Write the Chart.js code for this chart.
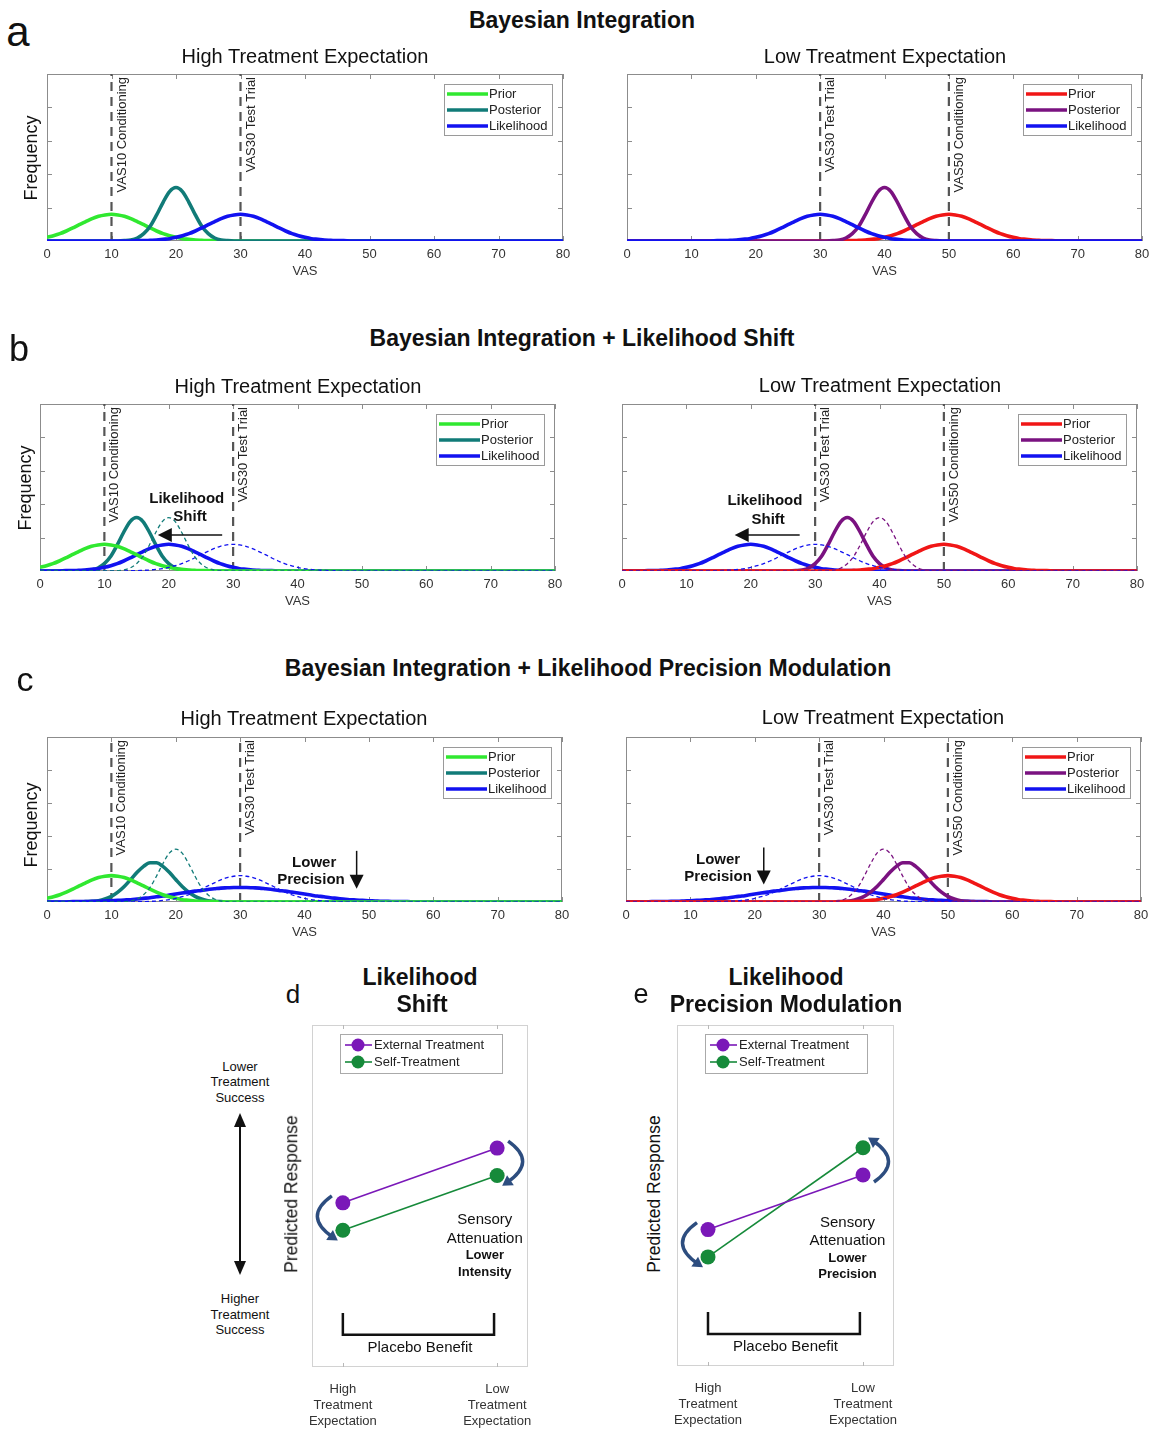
<!DOCTYPE html>
<html lang="en">
  <head>
    <meta charset="UTF-8" />
    <title>Bayesian Integration</title>
    <script src="https://cdn.jsdelivr.net/npm/chart.js@4.4.1/dist/chart.umd.min.js"></script>
    <style>
      body {
        margin: 0;
        background: #fff;
        font-family: "Liberation Sans", Arial, sans-serif;
      }
      #figure {
        position: relative;
        width: 1152px;
        height: 1430px;
        overflow: hidden;
      }
      #figure canvas {
        position: absolute;
      }
      .t {
        position: absolute;
        line-height: 1;
        white-space: nowrap;
        color: #111;
        transform: translate(-50%, -50%);
        z-index: 2;
      }
      .rot {
        transform: translate(-50%, -50%) rotate(-90deg);
      }
      .b {
        font-weight: bold;
      }
    </style>
  </head>
  <body>
    <div id="figure">
      <!-- panel a -->
      <div class="t" style="left: 18px; top: 32px; font-size: 42px">a</div>
      <div class="t b" style="left: 582px; top: 20px; font-size: 23px">Bayesian Integration</div>
      <div class="t" style="left: 305px; top: 56px; font-size: 20px">High Treatment Expectation</div>
      <div class="t" style="left: 885px; top: 56px; font-size: 20px">Low Treatment Expectation</div>
      <div class="t rot" style="left: 31px; top: 158px; font-size: 18px">Frequency</div>
      <canvas id="aHigh"></canvas>
      <canvas id="aLow"></canvas>

      <!-- panel b -->
      <div class="t" style="left: 19px; top: 349px; font-size: 36px">b</div>
      <div class="t b" style="left: 582px; top: 338px; font-size: 23px">Bayesian Integration + Likelihood Shift</div>
      <div class="t" style="left: 298px; top: 386px; font-size: 20px">High Treatment Expectation</div>
      <div class="t" style="left: 880px; top: 385px; font-size: 20px">Low Treatment Expectation</div>
      <div class="t rot" style="left: 25px; top: 488px; font-size: 18px">Frequency</div>
      <canvas id="bHigh"></canvas>
      <canvas id="bLow"></canvas>

      <!-- panel c -->
      <div class="t" style="left: 25px; top: 679px; font-size: 34px">c</div>
      <div class="t b" style="left: 588px; top: 668px; font-size: 23px">Bayesian Integration + Likelihood Precision Modulation</div>
      <div class="t" style="left: 304px; top: 718px; font-size: 20px">High Treatment Expectation</div>
      <div class="t" style="left: 883px; top: 717px; font-size: 20px">Low Treatment Expectation</div>
      <div class="t rot" style="left: 31px; top: 825px; font-size: 18px">Frequency</div>
      <canvas id="cHigh"></canvas>
      <canvas id="cLow"></canvas>

      <!-- panels d and e -->
      <div class="t" style="left: 293px; top: 994px; font-size: 26px">d</div>
      <div class="t b" style="left: 420px; top: 977px; font-size: 23px">Likelihood</div>
      <div class="t b" style="left: 422px; top: 1004px; font-size: 23px">Shift</div>
      <div class="t" style="left: 641px; top: 994px; font-size: 27px">e</div>
      <div class="t b" style="left: 786px; top: 977px; font-size: 23px">Likelihood</div>
      <div class="t b" style="left: 786px; top: 1004px; font-size: 23px">Precision Modulation</div>
      <div class="t rot" style="left: 292px; top: 1194px; font-size: 17.5px">Predicted Response</div>
      <div class="t rot" style="left: 655px; top: 1194px; font-size: 17.5px">Predicted Response</div>

      <div class="t" style="left: 240px; top: 1066px; font-size: 13px">Lower</div>
      <div class="t" style="left: 240px; top: 1081px; font-size: 13px">Treatment</div>
      <div class="t" style="left: 240px; top: 1097px; font-size: 13px">Success</div>
      <svg style="position: absolute; left: 228px; top: 1110px" width="24" height="168">
        <line x1="12" y1="14" x2="12" y2="154" stroke="#111" stroke-width="2" />
        <polygon points="12,3 6,17 18,17" fill="#111" />
        <polygon points="12,165 6,151 18,151" fill="#111" />
      </svg>
      <div class="t" style="left: 240px; top: 1298px; font-size: 13px">Higher</div>
      <div class="t" style="left: 240px; top: 1314px; font-size: 13px">Treatment</div>
      <div class="t" style="left: 240px; top: 1329px; font-size: 13px">Success</div>

      <canvas id="dShift"></canvas>
      <canvas id="ePrecision"></canvas>
    </div>

    <script>
      // VAS grid (0..80, step 1) and axis ticks
      const vas = Array.from({ length: 81 }, (_, i) => i);
      const vasTicks = [0, 10, 20, 30, 40, 50, 60, 70, 80];
      const freqTicks = [0.1, 0.2, 0.3, 0.4];

      // prior, conditioned at VAS10
      const priorHigh = [
        0.011, 0.016, 0.022, 0.03, 0.039, 0.049, 0.058, 0.067, 0.074, 0.078,
        0.08, 0.078, 0.074, 0.067, 0.058, 0.049, 0.039, 0.03, 0.022, 0.016,
        0.011, 0.007, 0.005, 0.003, 0.002, 0.001, 0.001, 0, 0, 0,
        0, 0, 0, 0, 0, 0, 0, 0, 0, 0,
        0, 0, 0, 0, 0, 0, 0, 0, 0, 0,
        0, 0, 0, 0, 0, 0, 0, 0, 0, 0,
        0, 0, 0, 0, 0, 0, 0, 0, 0, 0,
        0, 0, 0, 0, 0, 0, 0, 0, 0, 0,
        0,
      ];
      // prior, conditioned at VAS50
      const priorLow = [
        0, 0, 0, 0, 0, 0, 0, 0, 0, 0,
        0, 0, 0, 0, 0, 0, 0, 0, 0, 0,
        0, 0, 0, 0, 0, 0, 0, 0, 0, 0,
        0, 0, 0, 0, 0.001, 0.001, 0.002, 0.003, 0.005, 0.007,
        0.011, 0.016, 0.022, 0.03, 0.039, 0.049, 0.058, 0.067, 0.074, 0.078,
        0.08, 0.078, 0.074, 0.067, 0.058, 0.049, 0.039, 0.03, 0.022, 0.016,
        0.011, 0.007, 0.005, 0.003, 0.002, 0.001, 0.001, 0, 0, 0,
        0, 0, 0, 0, 0, 0, 0, 0, 0, 0,
        0,
      ];
      // likelihood of the VAS30 test trial
      const likelihoodTest = [
        0, 0, 0, 0, 0, 0, 0, 0, 0, 0,
        0, 0, 0, 0, 0.001, 0.001, 0.002, 0.003, 0.005, 0.007,
        0.011, 0.016, 0.022, 0.03, 0.039, 0.049, 0.058, 0.067, 0.074, 0.078,
        0.08, 0.078, 0.074, 0.067, 0.058, 0.049, 0.039, 0.03, 0.022, 0.016,
        0.011, 0.007, 0.005, 0.003, 0.002, 0.001, 0.001, 0, 0, 0,
        0, 0, 0, 0, 0, 0, 0, 0, 0, 0,
        0, 0, 0, 0, 0, 0, 0, 0, 0, 0,
        0, 0, 0, 0, 0, 0, 0, 0, 0, 0,
        0,
      ];
      const posteriorHigh = [
        0, 0, 0, 0, 0, 0, 0, 0, 0, 0,
        0, 0, 0.001, 0.003, 0.009, 0.022, 0.044, 0.078, 0.116, 0.148,
        0.16, 0.148, 0.116, 0.078, 0.044, 0.022, 0.009, 0.003, 0.001, 0,
        0, 0, 0, 0, 0, 0, 0, 0, 0, 0,
        0, 0, 0, 0, 0, 0, 0, 0, 0, 0,
        0, 0, 0, 0, 0, 0, 0, 0, 0, 0,
        0, 0, 0, 0, 0, 0, 0, 0, 0, 0,
        0, 0, 0, 0, 0, 0, 0, 0, 0, 0,
        0,
      ];
      const posteriorLow = [
        0, 0, 0, 0, 0, 0, 0, 0, 0, 0,
        0, 0, 0, 0, 0, 0, 0, 0, 0, 0,
        0, 0, 0, 0, 0, 0, 0, 0, 0, 0,
        0, 0, 0.001, 0.003, 0.009, 0.022, 0.044, 0.078, 0.116, 0.148,
        0.16, 0.148, 0.116, 0.078, 0.044, 0.022, 0.009, 0.003, 0.001, 0,
        0, 0, 0, 0, 0, 0, 0, 0, 0, 0,
        0, 0, 0, 0, 0, 0, 0, 0, 0, 0,
        0, 0, 0, 0, 0, 0, 0, 0, 0, 0,
        0,
      ];
      // likelihood shifted towards VAS20
      const likelihoodShift = [
        0, 0, 0, 0, 0.001, 0.001, 0.002, 0.003, 0.005, 0.007,
        0.011, 0.016, 0.022, 0.03, 0.039, 0.049, 0.058, 0.067, 0.074, 0.078,
        0.08, 0.078, 0.074, 0.067, 0.058, 0.049, 0.039, 0.03, 0.022, 0.016,
        0.011, 0.007, 0.005, 0.003, 0.002, 0.001, 0.001, 0, 0, 0,
        0, 0, 0, 0, 0, 0, 0, 0, 0, 0,
        0, 0, 0, 0, 0, 0, 0, 0, 0, 0,
        0, 0, 0, 0, 0, 0, 0, 0, 0, 0,
        0, 0, 0, 0, 0, 0, 0, 0, 0, 0,
        0,
      ];
      const posteriorShiftHigh = [
        0, 0, 0, 0, 0, 0, 0, 0.001, 0.003, 0.009,
        0.022, 0.044, 0.078, 0.116, 0.148, 0.16, 0.148, 0.116, 0.078, 0.044,
        0.022, 0.009, 0.003, 0.001, 0, 0, 0, 0, 0, 0,
        0, 0, 0, 0, 0, 0, 0, 0, 0, 0,
        0, 0, 0, 0, 0, 0, 0, 0, 0, 0,
        0, 0, 0, 0, 0, 0, 0, 0, 0, 0,
        0, 0, 0, 0, 0, 0, 0, 0, 0, 0,
        0, 0, 0, 0, 0, 0, 0, 0, 0, 0,
        0,
      ];
      const posteriorShiftLow = [
        0, 0, 0, 0, 0, 0, 0, 0, 0, 0,
        0, 0, 0, 0, 0, 0, 0, 0, 0, 0,
        0, 0, 0, 0, 0, 0, 0, 0.001, 0.003, 0.009,
        0.022, 0.044, 0.078, 0.116, 0.148, 0.16, 0.148, 0.116, 0.078, 0.044,
        0.022, 0.009, 0.003, 0.001, 0, 0, 0, 0, 0, 0,
        0, 0, 0, 0, 0, 0, 0, 0, 0, 0,
        0, 0, 0, 0, 0, 0, 0, 0, 0, 0,
        0, 0, 0, 0, 0, 0, 0, 0, 0, 0,
        0,
      ];
      // broader likelihood (lower precision)
      const likelihoodBroad = [
        0, 0, 0, 0, 0.001, 0.001, 0.001, 0.002, 0.002, 0.003,
        0.004, 0.005, 0.006, 0.007, 0.009, 0.011, 0.013, 0.016, 0.018, 0.021,
        0.024, 0.027, 0.03, 0.033, 0.035, 0.038, 0.04, 0.042, 0.043, 0.044,
        0.044, 0.044, 0.043, 0.042, 0.04, 0.038, 0.035, 0.033, 0.03, 0.027,
        0.024, 0.021, 0.018, 0.016, 0.013, 0.011, 0.009, 0.007, 0.006, 0.005,
        0.004, 0.003, 0.002, 0.002, 0.001, 0.001, 0.001, 0, 0, 0,
        0, 0, 0, 0, 0, 0, 0, 0, 0, 0,
        0, 0, 0, 0, 0, 0, 0, 0, 0, 0,
        0,
      ];
      const posteriorPrecHigh = [
        0, 0, 0, 0, 0, 0, 0.001, 0.002, 0.004, 0.009,
        0.017, 0.03, 0.047, 0.068, 0.09, 0.108, 0.119, 0.119, 0.108, 0.09,
        0.068, 0.047, 0.03, 0.017, 0.009, 0.004, 0.002, 0.001, 0, 0,
        0, 0, 0, 0, 0, 0, 0, 0, 0, 0,
        0, 0, 0, 0, 0, 0, 0, 0, 0, 0,
        0, 0, 0, 0, 0, 0, 0, 0, 0, 0,
        0, 0, 0, 0, 0, 0, 0, 0, 0, 0,
        0, 0, 0, 0, 0, 0, 0, 0, 0, 0,
        0,
      ];
      const posteriorPrecLow = [
        0, 0, 0, 0, 0, 0, 0, 0, 0, 0,
        0, 0, 0, 0, 0, 0, 0, 0, 0, 0,
        0, 0, 0, 0, 0, 0, 0, 0, 0, 0,
        0, 0, 0, 0.001, 0.002, 0.004, 0.009, 0.017, 0.03, 0.047,
        0.068, 0.09, 0.108, 0.119, 0.119, 0.108, 0.09, 0.068, 0.047, 0.03,
        0.017, 0.009, 0.004, 0.002, 0.001, 0, 0, 0, 0, 0,
        0, 0, 0, 0, 0, 0, 0, 0, 0, 0,
        0, 0, 0, 0, 0, 0, 0, 0, 0, 0,
        0,
      ];

      // predicted response, panels d and e (x: 1 = high, 2 = low expectation)
      const expectation = [1, 2];
      const expectationLabels = [
        ["High", "Treatment", "Expectation"],
        ["Low", "Treatment", "Expectation"],
      ];
      const externalShift = [4.8, 6.4];
      const selfShift = [4.0, 5.6];
      const externalPrecision = [4.0, 5.6];
      const selfPrecision = [3.2, 6.4];

      const FONT = '"Liberation Sans", Arial, sans-serif';
      const C = {
        lime: "#30e830",
        teal: "#117b78",
        blue: "#1212f0",
        red: "#f01616",
        purple: "#7a1280",
        external: "#7a18b8",
        self: "#168a3a",
        swap: "#2d4d7f",
      };
      const legendOrder = ["Prior", "Posterior", "Likelihood"];

      Chart.defaults.font.family = FONT;
      Chart.defaults.color = "#333";

      function place(id, left, top, width, height) {
        const cv = document.getElementById(id);
        cv.width = width;
        cv.height = height;
        cv.style.left = left + "px";
        cv.style.top = top + "px";
        return cv;
      }

      function arrowHead(ctx, tipX, tipY, ang, len, half) {
        ctx.beginPath();
        ctx.moveTo(tipX, tipY);
        ctx.lineTo(tipX - len * Math.cos(ang) + half * Math.sin(ang), tipY - len * Math.sin(ang) - half * Math.cos(ang));
        ctx.lineTo(tipX - len * Math.cos(ang) - half * Math.sin(ang), tipY - len * Math.sin(ang) + half * Math.cos(ang));
        ctx.closePath();
        ctx.fill();
      }

      // one Frequency-vs-VAS panel; area = chart area in page pixels
      function gaussPlot(id, area, panel) {
        const cv = place(id, area.left - 40, area.top - 10, area.right - area.left + 60, area.bottom - area.top + 52);

        const datasets = panel.lines.map((line) => ({
          label: line.label,
          data: line.values.map((y, i) => ({ x: vas[i], y })),
          borderColor: line.color,
          borderWidth: line.dashed ? 1.3 : 3.6,
          borderDash: line.dashed ? [4, 3] : [],
          borderJoinStyle: "round",
          pointRadius: 0,
          cubicInterpolationMode: "monotone",
        }));
        panel.markers.forEach((m) =>
          datasets.push({
            label: m.text,
            data: [
              { x: m.at, y: 0 },
              { x: m.at, y: 0.5 },
            ],
            borderColor: "#555",
            borderWidth: 2.2,
            borderDash: [9, 6],
            pointRadius: 0,
          })
        );

        const frame = {
          id: "frame",
          beforeDatasetsDraw(chart) {
            const { ctx, chartArea: a, scales } = chart;
            ctx.save();
            ctx.strokeStyle = "#8c8c8c";
            ctx.lineWidth = 1;
            ctx.strokeRect(a.left + 0.5, a.top + 0.5, a.width - 1, a.height - 1);
            ctx.beginPath();
            vasTicks.forEach((v) => {
              const px = Math.round(scales.x.getPixelForValue(v)) + 0.5;
              ctx.moveTo(px, a.bottom);
              ctx.lineTo(px, a.bottom - 5);
              ctx.moveTo(px, a.top);
              ctx.lineTo(px, a.top + 5);
            });
            freqTicks.forEach((v) => {
              const py = Math.round(scales.y.getPixelForValue(v)) + 0.5;
              ctx.moveTo(a.left, py);
              ctx.lineTo(a.left + 5, py);
              ctx.moveTo(a.right, py);
              ctx.lineTo(a.right - 5, py);
            });
            ctx.stroke();
            ctx.restore();
          },
          afterDatasetsDraw(chart) {
            const { ctx, chartArea: a, scales } = chart;
            const { x, y } = scales;
            ctx.save();

            // condition / test-trial labels beside the dashed lines
            ctx.fillStyle = "#222";
            ctx.font = "13px " + FONT;
            ctx.textAlign = "right";
            ctx.textBaseline = "top";
            panel.markers.forEach((m) => {
              ctx.save();
              ctx.translate(x.getPixelForValue(m.at) + 4, a.top + 3);
              ctx.rotate(-Math.PI / 2);
              ctx.fillText(m.text, 0, 0);
              ctx.restore();
            });

            // legend box
            const bx = a.right - 119,
              by = a.top + 10;
            ctx.fillStyle = "#fff";
            ctx.fillRect(bx, by, 108, 51);
            ctx.strokeStyle = "#9a9a9a";
            ctx.lineWidth = 1;
            ctx.strokeRect(bx + 0.5, by + 0.5, 108, 51);
            ctx.font = "13px " + FONT;
            ctx.textAlign = "left";
            ctx.textBaseline = "middle";
            legendOrder.forEach((name, i) => {
              const line = panel.lines.find((l) => l.label === name && !l.dashed);
              const ly = by + 10 + i * 16;
              ctx.strokeStyle = line.color;
              ctx.lineWidth = 3.6;
              ctx.beginPath();
              ctx.moveTo(bx + 3, ly);
              ctx.lineTo(bx + 44, ly);
              ctx.stroke();
              ctx.fillStyle = "#222";
              ctx.fillText(name, bx + 45, ly + 0.5);
            });

            // annotations
            ctx.fillStyle = "#111";
            ctx.strokeStyle = "#111";
            ctx.font = "bold 15px " + FONT;
            ctx.textAlign = "center";
            (panel.notes || []).forEach((n) => {
              ctx.fillText(n.text, x.getPixelForValue(n.x), y.getPixelForValue(n.y));
            });
            (panel.arrows || []).forEach((ar) => {
              const x1 = x.getPixelForValue(ar.from[0]),
                y1 = y.getPixelForValue(ar.from[1]);
              const x2 = x.getPixelForValue(ar.to[0]),
                y2 = y.getPixelForValue(ar.to[1]);
              const ang = Math.atan2(y2 - y1, x2 - x1);
              ctx.lineWidth = 1.5;
              ctx.beginPath();
              ctx.moveTo(x1, y1);
              ctx.lineTo(x2 - 12 * Math.cos(ang), y2 - 12 * Math.sin(ang));
              ctx.stroke();
              arrowHead(ctx, x2, y2, ang, 14, 7);
            });
            ctx.restore();
          },
        };

        new Chart(cv, {
          type: "line",
          data: { datasets },
          options: {
            responsive: false,
            animation: false,
            layout: { padding: { left: 40, top: 10, right: 20, bottom: 0 } },
            plugins: { legend: { display: false }, tooltip: { enabled: false } },
            scales: {
              x: {
                type: "linear",
                min: 0,
                max: 80,
                grid: { display: false, drawTicks: false },
                border: { display: false },
                afterBuildTicks: (s) => {
                  s.ticks = vasTicks.map((v) => ({ value: v }));
                },
                ticks: { padding: 6, color: "#333", font: { size: 13 }, maxRotation: 0, autoSkip: false },
                title: { display: true, text: "VAS", color: "#333", font: { size: 13 }, padding: { top: 1, bottom: 4 } },
                afterFit: (s) => {
                  s.height = 42;
                  s.paddingLeft = 0;
                  s.paddingRight = 0;
                },
              },
              y: { display: false, min: 0, max: 0.5 },
            },
          },
          plugins: [frame],
        });
      }

      // predicted response panels d and e
      function responsePlot(id, area, external, self, note) {
        const cv = place(id, area.left - 12, area.top - 10, area.right - area.left + 24, 1430 - area.top + 10);
        const series = (values) => values.map((v, i) => ({ x: expectation[i], y: v }));
        const datasets = [
          {
            label: "External Treatment",
            data: series(external),
            borderColor: C.external,
            backgroundColor: C.external,
            borderWidth: 1.6,
            pointRadius: 7.5,
            pointBorderWidth: 0,
          },
          {
            label: "Self-Treatment",
            data: series(self),
            borderColor: C.self,
            backgroundColor: C.self,
            borderWidth: 1.6,
            pointRadius: 7.5,
            pointBorderWidth: 0,
          },
        ];

        const decor = {
          id: "decor",
          beforeDatasetsDraw(chart) {
            const { ctx, chartArea: a, scales } = chart;
            const { x, y } = scales;
            ctx.save();
            ctx.strokeStyle = "#d2d2d2";
            ctx.lineWidth = 1;
            ctx.strokeRect(a.left + 0.5, a.top + 0.5, a.width - 1, a.height - 1);
            ctx.strokeStyle = "#b8b8b8";
            ctx.beginPath();
            expectation.forEach((v) => {
              const px = Math.round(x.getPixelForValue(v)) + 0.5;
              ctx.moveTo(px, a.bottom);
              ctx.lineTo(px, a.bottom - 4);
              ctx.moveTo(px, a.top);
              ctx.lineTo(px, a.top + 4);
            });
            ctx.stroke();

            // bracket + placebo benefit
            ctx.strokeStyle = "#111";
            ctx.lineWidth = 2.5;
            ctx.beginPath();
            ctx.moveTo(x.getPixelForValue(1.0), y.getPixelForValue(1.58));
            ctx.lineTo(x.getPixelForValue(1.0), y.getPixelForValue(0.94));
            ctx.lineTo(x.getPixelForValue(1.98), y.getPixelForValue(0.94));
            ctx.lineTo(x.getPixelForValue(1.98), y.getPixelForValue(1.58));
            ctx.stroke();
            ctx.fillStyle = "#111";
            ctx.textAlign = "center";
            ctx.textBaseline = "middle";
            ctx.font = "15px " + FONT;
            ctx.fillText("Placebo Benefit", x.getPixelForValue(1.5), y.getPixelForValue(0.55));

            // sensory attenuation note
            const nx = x.getPixelForValue(note.x);
            ctx.fillText("Sensory", nx, y.getPixelForValue(note.y[0]));
            ctx.fillText("Attenuation", nx, y.getPixelForValue(note.y[1]));
            ctx.font = "bold 13px " + FONT;
            ctx.fillText("Lower", nx, y.getPixelForValue(note.y[2]));
            ctx.fillText(note.text, nx, y.getPixelForValue(note.y[3]));
            ctx.restore();
          },
          afterDatasetsDraw(chart) {
            const { ctx, chartArea: a } = chart;
            const ext = chart.getDatasetMeta(0).data;
            const slf = chart.getDatasetMeta(1).data;
            ctx.save();

            // curved arrows from external to self-treatment
            ctx.strokeStyle = C.swap;
            ctx.fillStyle = C.swap;
            ctx.lineWidth = 3.5;
            [
              [0, -1],
              [1, 1],
            ].forEach(([i, side]) => {
              const p = ext[i],
                g = slf[i];
              const dir = Math.sign(g.y - p.y);
              const fx = p.x + side * 11,
                fy = p.y - dir * 7;
              const tx = g.x + side * 10,
                ty = g.y + dir * 7;
              const cx = (fx + tx) / 2 + side * 30,
                cy = (fy + ty) / 2;
              ctx.beginPath();
              ctx.moveTo(fx, fy);
              ctx.quadraticCurveTo(cx, cy, tx, ty);
              ctx.stroke();
              const ang = Math.atan2(ty - cy, tx - cx);
              arrowHead(ctx, tx + 6 * Math.cos(ang), ty + 6 * Math.sin(ang), ang, 10, 6);
            });

            // legend
            const bx = a.left + 28,
              by = a.top + 9;
            ctx.fillStyle = "#fff";
            ctx.fillRect(bx, by, 162, 39);
            ctx.strokeStyle = "#aaa";
            ctx.lineWidth = 1;
            ctx.strokeRect(bx + 0.5, by + 0.5, 162, 39);
            ctx.font = "13px " + FONT;
            ctx.textAlign = "left";
            ctx.textBaseline = "middle";
            chart.data.datasets.forEach((ds, i) => {
              const ly = by + 11 + i * 17;
              ctx.strokeStyle = ds.borderColor;
              ctx.lineWidth = 1.6;
              ctx.beginPath();
              ctx.moveTo(bx + 5, ly);
              ctx.lineTo(bx + 32, ly);
              ctx.stroke();
              ctx.fillStyle = ds.borderColor;
              ctx.beginPath();
              ctx.arc(bx + 18, ly, 6.5, 0, Math.PI * 2);
              ctx.fill();
              ctx.fillStyle = "#222";
              ctx.fillText(ds.label, bx + 34, ly + 0.5);
            });
            ctx.restore();
          },
        };

        new Chart(cv, {
          type: "line",
          data: { datasets },
          options: {
            responsive: false,
            animation: false,
            layout: { padding: { left: 12, top: 10, right: 12, bottom: 0 } },
            plugins: { legend: { display: false }, tooltip: { enabled: false } },
            scales: {
              x: {
                type: "linear",
                min: 0.8,
                max: 2.2,
                grid: { display: false, drawTicks: false },
                border: { display: false },
                afterBuildTicks: (s) => {
                  s.ticks = expectation.map((v) => ({ value: v }));
                },
                ticks: {
                  padding: 15,
                  color: "#333",
                  font: { size: 13 },
                  maxRotation: 0,
                  autoSkip: false,
                  callback: (v) => expectationLabels[expectation.indexOf(v)],
                },
                afterFit: (s) => {
                  s.height = 1430 - area.bottom;
                  s.paddingLeft = 0;
                  s.paddingRight = 0;
                },
              },
              y: { display: false, min: 0, max: 10 },
            },
          },
          plugins: [decor],
        });
      }

      gaussPlot("aHigh", { left: 47, right: 563, top: 74, bottom: 241 }, {
        lines: [
          { label: "Likelihood", values: likelihoodTest, color: C.blue },
          { label: "Posterior", values: posteriorHigh, color: C.teal },
          { label: "Prior", values: priorHigh, color: C.lime },
        ],
        markers: [
          { at: 10, text: "VAS10 Conditioning" },
          { at: 30, text: "VAS30 Test Trial" },
        ],
      });
      gaussPlot("aLow", { left: 627, right: 1142, top: 74, bottom: 241 }, {
        lines: [
          { label: "Likelihood", values: likelihoodTest, color: C.blue },
          { label: "Posterior", values: posteriorLow, color: C.purple },
          { label: "Prior", values: priorLow, color: C.red },
        ],
        markers: [
          { at: 30, text: "VAS30 Test Trial" },
          { at: 50, text: "VAS50 Conditioning" },
        ],
      });

      gaussPlot("bHigh", { left: 40, right: 555, top: 404, bottom: 571 }, {
        lines: [
          { label: "Posterior", values: posteriorHigh, color: C.teal, dashed: true },
          { label: "Likelihood", values: likelihoodTest, color: C.blue, dashed: true },
          { label: "Prior", values: priorHigh, color: C.lime },
          { label: "Likelihood", values: likelihoodShift, color: C.blue },
          { label: "Posterior", values: posteriorShiftHigh, color: C.teal },
        ],
        markers: [
          { at: 10, text: "VAS10 Conditioning" },
          { at: 30, text: "VAS30 Test Trial" },
        ],
        notes: [
          { x: 22.8, y: 0.216, text: "Likelihood" },
          { x: 23.3, y: 0.162, text: "Shift" },
        ],
        arrows: [{ from: [28.3, 0.108], to: [18.3, 0.108] }],
      });
      gaussPlot("bLow", { left: 622, right: 1137, top: 404, bottom: 571 }, {
        lines: [
          { label: "Posterior", values: posteriorLow, color: C.purple, dashed: true },
          { label: "Likelihood", values: likelihoodTest, color: C.blue, dashed: true },
          { label: "Prior", values: priorLow, color: C.red },
          { label: "Posterior", values: posteriorShiftLow, color: C.purple },
          { label: "Likelihood", values: likelihoodShift, color: C.blue },
        ],
        markers: [
          { at: 30, text: "VAS30 Test Trial" },
          { at: 50, text: "VAS50 Conditioning" },
        ],
        notes: [
          { x: 22.2, y: 0.21, text: "Likelihood" },
          { x: 22.7, y: 0.153, text: "Shift" },
        ],
        arrows: [{ from: [27.6, 0.108], to: [17.5, 0.108] }],
      });

      gaussPlot("cHigh", { left: 47, right: 562, top: 737, bottom: 902 }, {
        lines: [
          { label: "Posterior", values: posteriorHigh, color: C.teal, dashed: true },
          { label: "Likelihood", values: likelihoodTest, color: C.blue, dashed: true },
          { label: "Prior", values: priorHigh, color: C.lime },
          { label: "Likelihood", values: likelihoodBroad, color: C.blue },
          { label: "Posterior", values: posteriorPrecHigh, color: C.teal },
        ],
        markers: [
          { at: 10, text: "VAS10 Conditioning" },
          { at: 30, text: "VAS30 Test Trial" },
        ],
        notes: [
          { x: 41.5, y: 0.118, text: "Lower" },
          { x: 41.0, y: 0.066, text: "Precision" },
        ],
        arrows: [{ from: [48.1, 0.155], to: [48.1, 0.04] }],
      });
      gaussPlot("cLow", { left: 626, right: 1141, top: 737, bottom: 902 }, {
        lines: [
          { label: "Posterior", values: posteriorLow, color: C.purple, dashed: true },
          { label: "Likelihood", values: likelihoodTest, color: C.blue, dashed: true },
          { label: "Prior", values: priorLow, color: C.red },
          { label: "Posterior", values: posteriorPrecLow, color: C.purple },
          { label: "Likelihood", values: likelihoodBroad, color: C.blue },
        ],
        markers: [
          { at: 30, text: "VAS30 Test Trial" },
          { at: 50, text: "VAS50 Conditioning" },
        ],
        notes: [
          { x: 14.3, y: 0.127, text: "Lower" },
          { x: 14.3, y: 0.075, text: "Precision" },
        ],
        arrows: [{ from: [21.4, 0.165], to: [21.4, 0.053] }],
      });

      responsePlot("dShift", { left: 312, right: 528, top: 1025, bottom: 1367 }, externalShift, selfShift, {
        x: 1.92,
        y: [4.3, 3.74, 3.25, 2.78],
        text: "Intensity",
      });
      responsePlot("ePrecision", { left: 677, right: 894, top: 1025, bottom: 1366 }, externalPrecision, selfPrecision, {
        x: 1.9,
        y: [4.2, 3.68, 3.15, 2.7],
        text: "Precision",
      });
    </script>
  </body>
</html>
